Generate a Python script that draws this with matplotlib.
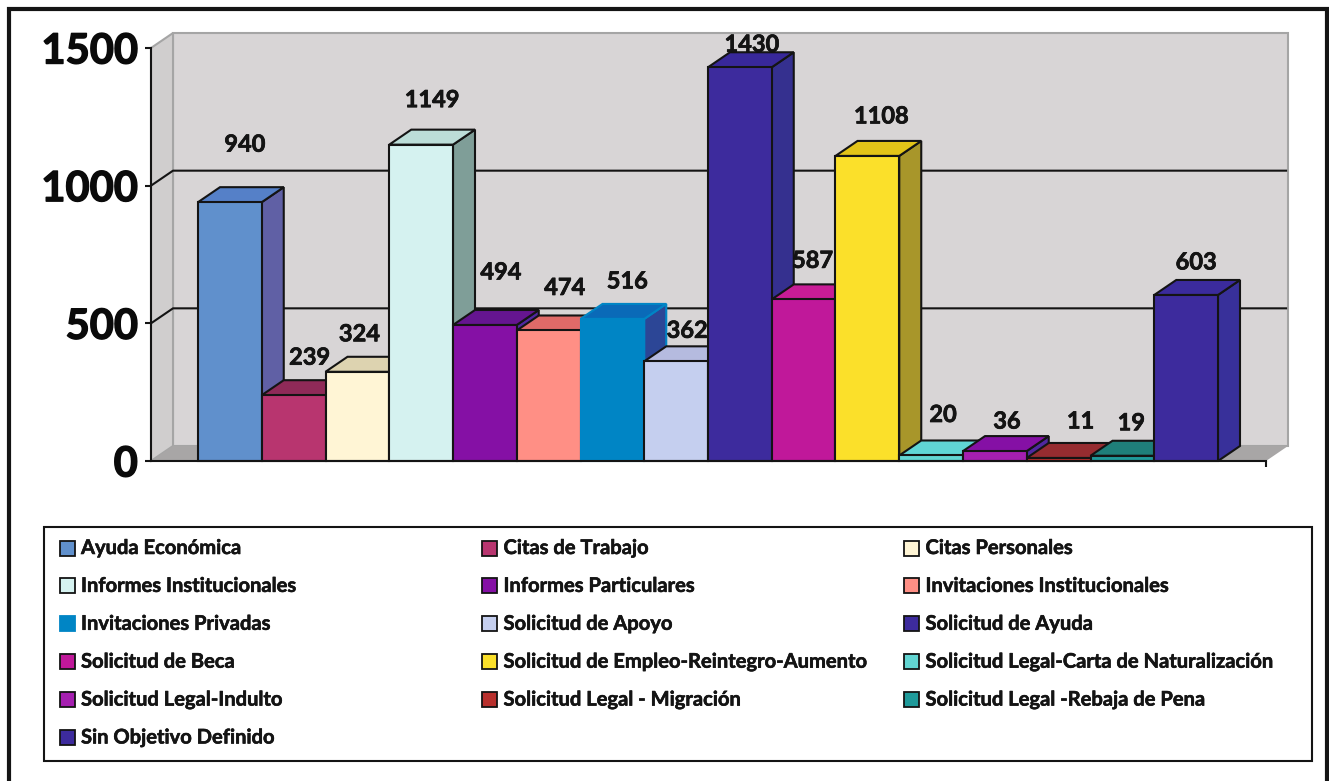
import matplotlib
matplotlib.use('Agg')
import matplotlib.pyplot as plt
import matplotlib.patheffects as pe
from matplotlib.patches import Rectangle

categories = ['Ayuda Económica', 'Citas de Trabajo', 'Citas Personales',
              'Informes Institucionales', 'Informes Particulares', 'Invitaciones Institucionales',
              'Invitaciones Privadas', 'Solicitud de Apoyo', 'Solicitud de Ayuda',
              'Solicitud de Beca', 'Solicitud de Empleo-Reintegro-Aumento', 'Solicitud Legal-Carta de Naturalización',
              'Solicitud Legal-Indulto', 'Solicitud Legal - Migración', 'Solicitud Legal -Rebaja de Pena',
              'Sin Objetivo Definido']
values = [940, 239, 324, 1149, 494, 474, 516, 362, 1430, 587, 1108, 20, 36, 11, 19, 603]
y_ticks = [0, 500, 1000, 1500]

front_colors = ['#6090CC', '#B8356F', '#FFF5D5', '#D5F2F0', '#8510A5', '#FF8F85', '#0085C5', '#C5CFEF',
                '#3D2B9D', '#C0189A', '#FBE02A', '#62D5D2', '#A51FB0', '#B8302D', '#1F9A9A', '#3D2B9D']
top_colors = ['#5580C8', '#8F2A58', '#DDD3B0', '#BCDDD8', '#651590', '#E06A68', '#0A6AB8', '#B5BBDF',
              '#38289A', '#C81C96', '#E3C418', '#60D5D5', '#8510A5', '#962C30', '#1F7F7A', '#3B2B9D']
side_colors = ['#6060A5', '#7A2A60', '#A8A390', '#7F9E98', '#5028A0', '#A85A5A', '#2C4696', '#8A8FAA',
               '#35308F', '#801570', '#A8962A', '#3E8F90', '#5028A0', '#702024', '#155F5C', '#38309A']
# pixel nudges of the value labels, the original ones sit all over the place
label_dx = [15, 16, 2, 11, 16, 16, 15, 11, 12, 9, 14, 12, 12, 22, 9, 10]
label_dy = [58, 38, 38, 45, 53, 43, 38, 31, 23, 39, 40, 41, 30, 37, 33, 33]

W, H = 1329, 781
FONT = 'Lato'
DARK = '#141414'
bar_px = 63.75
depth_x = 22 / bar_px
depth_y = 15 / (413 / 1500)
x_left = (151 - 198) / bar_px - 0.5
x_right = (1266 - 198) / bar_px - 0.5


def thick(lw):
    # Lato bold is a bit thin next to the original lettering
    return [pe.withStroke(linewidth=lw, foreground='#0A0A0A')]


fig = plt.figure(figsize=(W / 100, H / 100), dpi=100, facecolor='white')
ax = fig.add_axes([151 / W, 1 - 461 / H, (1266 - 151) / W, 413 / H])
ax.set_xlim(x_left, x_right)
ax.set_ylim(0, 1500)
ax.patch.set_visible(False)

# walls and floor
ax.fill([x_left + depth_x, x_right + depth_x, x_right + depth_x, x_left + depth_x],
        [depth_y, depth_y, 1500 + depth_y, 1500 + depth_y],
        facecolor='#D8D5D6', edgecolor='#A5A5A5', linewidth=1.5, clip_on=False, zorder=1)
ax.fill([x_left, x_left + depth_x, x_left + depth_x, x_left],
        [0, depth_y, 1500 + depth_y, 1500],
        facecolor='#D0CECE', edgecolor='#A5A5A5', linewidth=1.5, clip_on=False, zorder=1)
ax.fill([x_left, x_right, x_right + depth_x, x_left + depth_x],
        [0, 0, depth_y, depth_y],
        facecolor='#A8A6A6', edgecolor='none', clip_on=False, zorder=1.1)

for t in y_ticks[1:-1]:
    ax.plot([x_left, x_left + depth_x, x_right + depth_x - 0.03], [t, t + depth_y, t + depth_y],
            color=DARK, linewidth=1.5, clip_on=False, zorder=1.2)

x = list(range(len(values)))
bars = ax.bar(x, values, width=1, color=front_colors, edgecolor=DARK, linewidth=1.5, clip_on=False)
for i, (b, v) in enumerate(zip(bars, values)):
    edge = front_colors[i] if categories[i] == 'Invitaciones Privadas' else DARK
    z = 3 + i * 0.1
    b.set_edgecolor(edge)
    b.set_zorder(z + 0.02)
    l, r = i - 0.5, i + 0.5
    ax.fill([r, r + depth_x, r + depth_x, r], [0, depth_y, v + depth_y, v],
            facecolor=side_colors[i], edgecolor=edge, linewidth=1.5, clip_on=False, zorder=z)
    ax.fill([l, r, r + depth_x, l + depth_x], [v, v, v + depth_y, v + depth_y],
            facecolor=top_colors[i], edgecolor=edge, linewidth=1.5, clip_on=False, zorder=z + 0.01)
    ax.annotate(str(v), xy=(i, v), xytext=(label_dx[i], label_dy[i]), textcoords='offset pixels',
                ha='center', va='center', fontsize=17, fontweight='bold', family=FONT,
                color=DARK, zorder=10, annotation_clip=False, path_effects=thick(0.5))

for s in ['top', 'right']:
    ax.spines[s].set_visible(False)
for s in ['left', 'bottom']:
    ax.spines[s].set_color(DARK)
    ax.spines[s].set_linewidth(1.5)
    ax.spines[s].set_zorder(6)
ax.set_xticks([x_right])
ax.set_xticklabels([''])
ax.set_yticks(y_ticks)
ax.set_yticklabels([str(t) for t in y_ticks], fontsize=30, fontweight='bold', family=FONT,
                   color='#0A0A0A', path_effects=thick(1.0))
ax.tick_params(axis='y', length=4.5, width=1.5, color=DARK, pad=5)
ax.tick_params(axis='x', length=4.5, width=1.5, color=DARK)

# overlay in pixels for the outer frame and the legend box
over = fig.add_axes([0, 0, 1, 1], zorder=20)
over.set_xlim(0, W)
over.set_ylim(H, 0)
over.axis('off')
over.plot([9, 9, 1327, 1327], [H + 5, 9, 9, H + 5], color=DARK, linewidth=3, solid_joinstyle='miter')
over.add_patch(Rectangle((44, 527), 1268, 234, facecolor='white', edgecolor=DARK, linewidth=1.5))

for i, name in enumerate(categories):
    col = i % 3
    row = i // 3
    sx = [59.5, 482, 904][col]
    sy = 548 + row * 37.9
    edge = front_colors[i] if name == 'Invitaciones Privadas' else DARK
    over.add_patch(Rectangle((sx, sy - 7.5), 15, 15, facecolor=front_colors[i], edgecolor=edge, linewidth=1.3))
    over.text(sx + 21.5, sy, name, ha='left', va='center', fontsize=14.5, fontweight='bold',
              family=FONT, color=DARK, path_effects=thick(0.4))

fig.savefig('out.png', dpi=100)
